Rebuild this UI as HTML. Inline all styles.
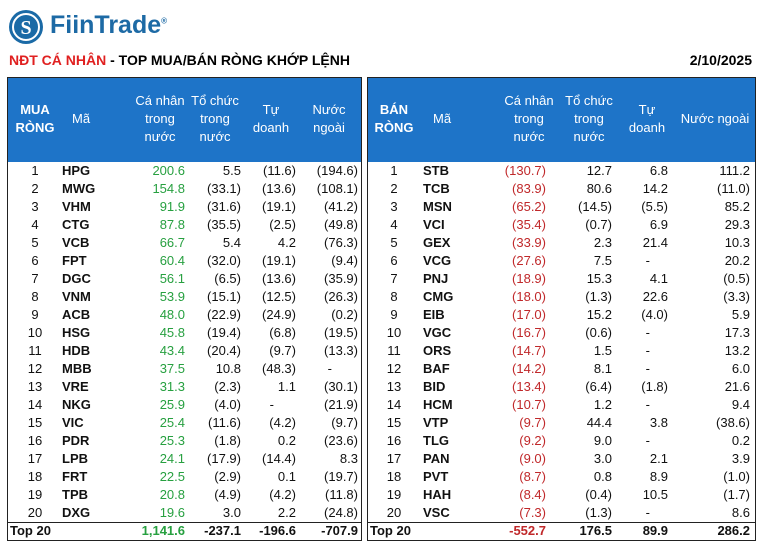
<!DOCTYPE html>
<html><head><meta charset="utf-8"><style>
body{margin:0;width:761px;height:550px;background:#fff;position:relative;overflow:hidden;font-family:"Liberation Sans Narrow","Liberation Sans",sans-serif;}
.a{position:absolute;white-space:nowrap;}
.tbl{position:absolute;border:1px solid #222;box-sizing:border-box;}
.hdr{position:absolute;background:#1e74c8;}
.h{position:absolute;color:#fff;font-size:13px;text-align:center;line-height:18px;white-space:nowrap;}
.c{position:absolute;font-size:13px;line-height:18px;white-space:nowrap;color:#111;}
</style></head><body>
<svg class="a" style="left:8px;top:9px" width="38" height="38"><circle cx="18" cy="18" r="17" fill="#1a6aa6"/><circle cx="18" cy="18" r="13" fill="none" stroke="#fff" stroke-width="2"/><text x="18" y="25" font-size="20" font-weight="bold" fill="#fff" text-anchor="middle" font-family="Liberation Serif">S</text></svg>
<div class="a" style="left:50px;top:11px;font-family:'Liberation Sans',sans-serif;font-weight:bold;font-size:25px;color:#1d6aa5;">FiinTrade<sup style="font-size:8px">®</sup></div>
<div class="a" style="left:9px;top:52px;font-size:14px;font-weight:bold;"><span style="color:#e02020">NĐT CÁ NHÂN</span> - TOP MUA/BÁN RÒNG KHỚP LỆNH</div>
<div class="a" style="right:9px;top:52px;font-size:14px;font-weight:bold;">2/10/2025</div>
<div id="root"></div>
<script>
const buyTickers=["HPG","MWG","VHM","CTG","VCB","FPT","DGC","VNM","ACB","HSG","HDB","MBB","VRE","NKG","VIC","PDR","LPB","FRT","TPB","DXG"];
const buyIndiv=["200.6","154.8","91.9","87.8","66.7","60.4","56.1","53.9","48.0","45.8","43.4","37.5","31.3","25.9","25.4","25.3","24.1","22.5","20.8","19.6"];
const buyInst=["5.5","(33.1)","(31.6)","(35.5)","5.4","(32.0)","(6.5)","(15.1)","(22.9)","(19.4)","(20.4)","10.8","(2.3)","(4.0)","(11.6)","(1.8)","(17.9)","(2.9)","(4.9)","3.0"];
const buyProp=["(11.6)","(13.6)","(19.1)","(2.5)","4.2","(19.1)","(13.6)","(12.5)","(24.9)","(6.8)","(9.7)","(48.3)","1.1","-","(4.2)","0.2","(14.4)","0.1","(4.2)","2.2"];
const buyForeign=["(194.6)","(108.1)","(41.2)","(49.8)","(76.3)","(9.4)","(35.9)","(26.3)","(0.2)","(19.5)","(13.3)","-","(30.1)","(21.9)","(9.7)","(23.6)","8.3","(19.7)","(11.8)","(24.8)"];
const buyTotals=["1,141.6","-237.1","-196.6","-707.9"];
const sellTickers=["STB","TCB","MSN","VCI","GEX","VCG","PNJ","CMG","EIB","VGC","ORS","BAF","BID","HCM","VTP","TLG","PAN","PVT","HAH","VSC"];
const sellIndiv=["(130.7)","(83.9)","(65.2)","(35.4)","(33.9)","(27.6)","(18.9)","(18.0)","(17.0)","(16.7)","(14.7)","(14.2)","(13.4)","(10.7)","(9.7)","(9.2)","(9.0)","(8.7)","(8.4)","(7.3)"];
const sellInst=["12.7","80.6","(14.5)","(0.7)","2.3","7.5","15.3","(1.3)","15.2","(0.6)","1.5","8.1","(6.4)","1.2","44.4","9.0","3.0","0.8","(0.4)","(1.3)"];
const sellProp=["6.8","14.2","(5.5)","6.9","21.4","-","4.1","22.6","(4.0)","-","-","-","(1.8)","-","3.8","-","2.1","8.9","10.5","-"];
const sellForeign=["111.2","(11.0)","85.2","29.3","10.3","20.2","(0.5)","(3.3)","5.9","17.3","13.2","6.0","21.6","9.4","(38.6)","0.2","3.9","(1.0)","(1.7)","8.6"];
const sellTotals=["-552.7","176.5","89.9","286.2"];
const root=document.getElementById('root');
function mk(cls,txt,st,name){const d=document.createElement('div');d.className=cls;if(txt!==null)d.innerHTML=txt;d.style.cssText=st;


root.appendChild(d);return d;}
function build(p){
 mk('tbl',null,`left:${p.x}px;top:77px;width:${p.w}px;height:464px;`,p.key+'-table');
 mk('hdr',null,`left:${p.x+1}px;top:78px;width:${p.w-2}px;height:84px;`,p.key+'-header');
 mk('h',p.title,`left:${p.x+p.rank-30}px;width:60px;top:101px;font-weight:bold;`,p.key+'-header-rank');
 mk('h','Mã',`left:${p.x+p.tick+10}px;width:50px;top:110px;text-align:left;`,p.key+'-header-ticker');
 const hs=['Cá nhân<br>trong<br>nước','Tổ chức<br>trong<br>nước','Tự<br>doanh',p.foreHdr];
 const tops=[92,92,101,p.foreTop];
 for(let i=0;i<4;i++) mk('h',hs[i],`left:${p.x+p.cc[i]-35}px;width:70px;top:${tops[i]}px;`,p.key+'-header-col'+(i+1));
 const cols=[p.ind,p.inst,p.prop,p.fore];
 for(let r=0;r<20;r++){
  const y=162+r*18;
  mk('c',String(r+1),`left:${p.x+p.rank-15}px;width:30px;text-align:center;top:${y}px;`,p.key+'-rank-'+(r+1));
  mk('c',p.tk[r],`left:${p.x+p.tick}px;top:${y}px;font-weight:bold;`,p.key+'-ticker-'+p.tk[r]);
  for(let i=0;i<4;i++){
   const v=cols[i][r];const dash=v==='-';
   mk('c',v,`right:${761-(p.x+(dash?p.cc[i]+3:p.cr[i]))}px;top:${y}px;${i===0?'color:'+p.color+';':''}`,p.key+'-val-'+p.tk[r]+'-'+(i+1));
  }
 }
 mk('a',null,`left:${p.x}px;top:522px;width:${p.w}px;border-top:1px solid #222;`,p.key+'-total-separator');
 mk('c','Top 20',`left:${p.x+3}px;top:522px;font-weight:bold;`,p.key+'-total-label');
 for(let i=0;i<4;i++) mk('c',p.tot[i],`right:${761-(p.x+p.cr[i])}px;top:522px;font-weight:bold;${i===0?'color:'+p.color+';':''}`,p.key+'-total-'+(i+1));
}
build({key:'buy',x:7,w:355,title:'MUA<br>RÒNG',rank:28,tick:55,cc:[153,208,264,322],cr:[178,234,289,351],foreHdr:'Nước<br>ngoài',foreTop:101,
 tk:buyTickers,ind:buyIndiv,inst:buyInst,prop:buyProp,fore:buyForeign,tot:buyTotals,color:'#27a040'});
build({key:'sell',x:367,w:389,title:'BÁN<br>RÒNG',rank:27,tick:56,cc:[162,222,280,348],cr:[179,245,301,383],foreHdr:'Nước ngoài',foreTop:110,
 tk:sellTickers,ind:sellIndiv,inst:sellInst,prop:sellProp,fore:sellForeign,tot:sellTotals,color:'#c0282a'});
</script>
</body></html>
